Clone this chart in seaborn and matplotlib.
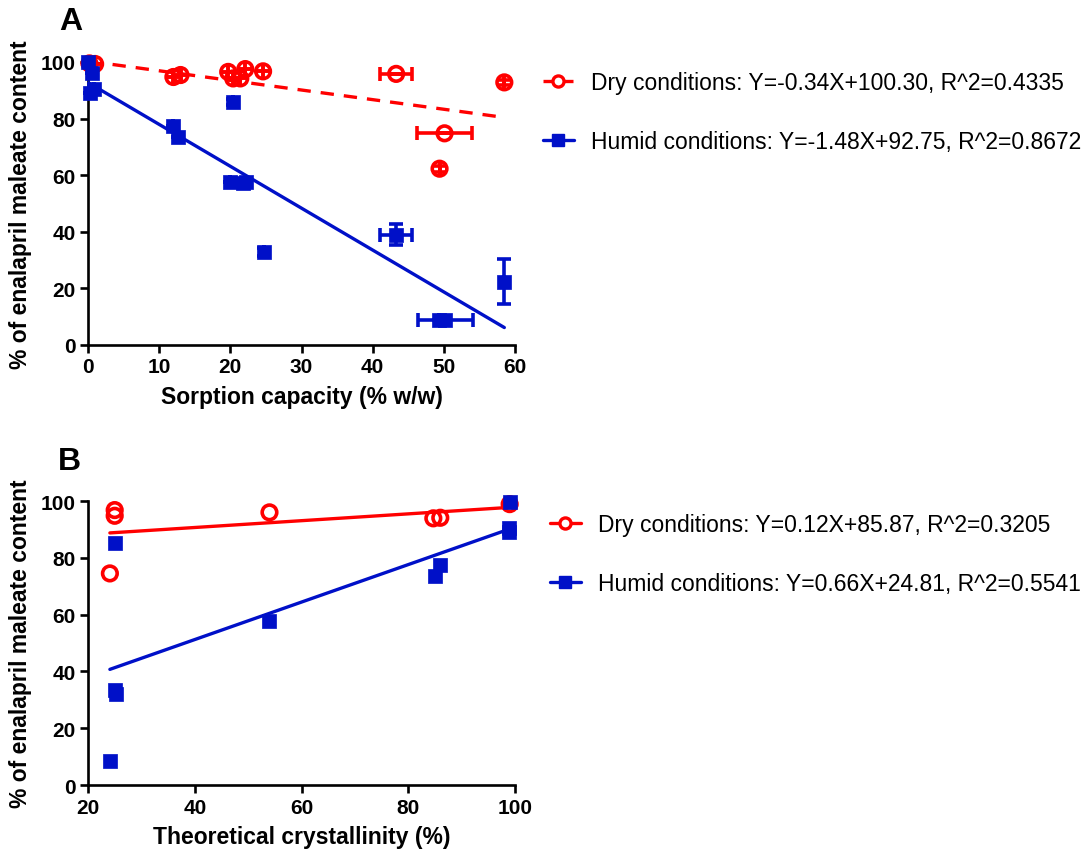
import numpy as np
import matplotlib
matplotlib.use('Agg')
import matplotlib.pyplot as plt
import seaborn as sns
from matplotlib.lines import Line2D

sns.set_style('ticks')
plt.rcParams['font.family'] = ['Liberation Sans', 'DejaVu Sans']
plt.rcParams['text.color'] = 'black'
plt.rcParams['axes.labelcolor'] = 'black'
plt.rcParams['axes.edgecolor'] = 'black'
plt.rcParams['xtick.color'] = 'black'
plt.rcParams['ytick.color'] = 'black'

RED = '#FF0000'
BLUE = '#0010C8'

# panel A: sorption capacity vs content
dry_a_x = [0.2, 1.0, 12.0, 13.0, 19.7, 20.4, 21.4, 22.1, 24.6, 43.3, 49.4, 50.1, 58.5]
dry_a_y = [99.5, 99.3, 94.7, 95.4, 96.5, 94.2, 94.2, 97.5, 96.7, 95.8, 62.3, 74.8, 92.8]
dry_a_xerr = [0, 0, 0, 0, 0, 0, 0, 0, 0, 2.2, 0, 3.9, 0]
dry_a_yerr = [0, 0, 0, 0, 0, 0, 0, 0, 0, 0, 1.0, 0, 1.0]

hum_a_x = [0.0, 0.5, 0.3, 0.8, 12.0, 12.6, 20.4, 20.0, 21.8, 22.2, 24.8, 43.3, 49.3, 50.2, 58.5]
hum_a_y = [100.0, 96.0, 89.0, 90.5, 77.3, 73.6, 85.8, 57.7, 57.1, 57.5, 32.8, 39.0, 9.0, 8.8, 22.4]
hum_a_xerr = [0, 0, 0, 0, 0, 0, 0, 0, 0, 0, 0, 2.2, 0, 3.9, 0]
hum_a_yerr = [0, 0, 0, 0, 0, 0, 1.0, 0, 0, 0, 1.5, 3.8, 0, 0, 8.0]

# panel B: theoretical crystallinity vs content
dry_b_x = [25.0, 25.0, 24.1, 54.0, 84.7, 86.0, 99.0]
dry_b_y = [96.8, 94.8, 74.5, 96.0, 93.9, 94.1, 98.9]
hum_b_x = [25.0, 25.0, 25.2, 24.1, 54.0, 85.0, 85.9, 98.9, 98.9, 99.0]
hum_b_y = [85.3, 33.3, 32.2, 8.5, 57.9, 73.5, 77.3, 89.0, 90.5, 99.6]

# regression equations (slope, intercept)
fit_a_dry = (-0.34, 100.30)
fit_a_hum = (-1.48, 92.75)
fit_b_dry = (0.12, 85.87)
fit_b_hum = (0.66, 24.81)

labels_a = ['Dry conditions: Y=-0.34X+100.30, R^2=0.4335',
            'Humid conditions: Y=-1.48X+92.75, R^2=0.8672']
labels_b = ['Dry conditions: Y=0.12X+85.87, R^2=0.3205',
            'Humid conditions: Y=0.66X+24.81, R^2=0.5541']

fig = plt.figure(figsize=(10.92, 8.53), dpi=100)
ax_a = fig.add_axes([88 / 1092, 1 - 346 / 853, 427 / 1092, 283 / 853])
ax_b = fig.add_axes([88 / 1092, 1 - 786 / 853, 427 / 1092, 284 / 853])

circ = dict(marker='o', s=110, facecolor='none', edgecolor=RED, linewidth=2.6, clip_on=False, zorder=4)
sq = dict(marker='s', s=95, color=BLUE, edgecolor=BLUE, linewidth=0.5, clip_on=False, zorder=5)


def fit_line(ax, xs, fit, color, ls):
    x_end = np.array([min(xs), max(xs)])
    sns.lineplot(x=x_end, y=fit[0] * x_end + fit[1], ax=ax, color=color,
                 linestyle=ls, linewidth=2.4, zorder=3)


# --- A ---
ax_a.errorbar(dry_a_x, dry_a_y, xerr=dry_a_xerr, yerr=dry_a_yerr, fmt='none', ecolor=RED,
              elinewidth=2.6, capsize=5, capthick=2.6, clip_on=False, zorder=3)
ax_a.errorbar(hum_a_x, hum_a_y, xerr=hum_a_xerr, yerr=hum_a_yerr, fmt='none', ecolor=BLUE,
              elinewidth=2.6, capsize=5, capthick=2.6, clip_on=False, zorder=3)
fit_line(ax_a, dry_a_x, fit_a_dry, RED, (0, (4, 3)))
fit_line(ax_a, hum_a_x, fit_a_hum, BLUE, '-')
sns.scatterplot(x=dry_a_x, y=dry_a_y, ax=ax_a, **circ)
sns.scatterplot(x=hum_a_x, y=hum_a_y, ax=ax_a, **sq)
ax_a.set_xlim(0, 60)
ax_a.set_ylim(0, 100)
ax_a.set_xticks(range(0, 61, 10))
ax_a.set_yticks(range(0, 101, 20))
ax_a.set_xlabel('Sorption capacity (% w/w)', fontsize=16.5, fontweight='bold', labelpad=6)

# --- B ---
fit_line(ax_b, dry_b_x, fit_b_dry, RED, '-')
fit_line(ax_b, hum_b_x, fit_b_hum, BLUE, '-')
sns.scatterplot(x=dry_b_x, y=dry_b_y, ax=ax_b, **circ)
sns.scatterplot(x=hum_b_x, y=hum_b_y, ax=ax_b, **sq)
ax_b.set_xlim(20, 100)
ax_b.set_ylim(0, 100)
ax_b.set_xticks(range(20, 101, 20))
ax_b.set_yticks(range(0, 101, 20))
ax_b.set_xlabel('Theoretical crystallinity (%)', fontsize=16.5, fontweight='bold', labelpad=6)

for ax in (ax_a, ax_b):
    sns.despine(ax=ax)
    ax.spines['left'].set_linewidth(1.9)
    ax.spines['bottom'].set_linewidth(1.9)
    ax.tick_params(width=1.9, length=6, labelsize=15, pad=3)
    for t in ax.get_xticklabels() + ax.get_yticklabels():
        t.set_fontweight('bold')
    ax.set_ylabel('% of enalapril maleate content', fontsize=16.5, fontweight='bold', labelpad=6)

fig.text(71 / 1092, 1 - 22 / 853, 'A', fontsize=23, fontweight='bold', ha='center', va='center')
fig.text(69 / 1092, 1 - 462 / 853, 'B', fontsize=23, fontweight='bold', ha='center', va='center')

# legends
h_a = [Line2D([], [], color=RED, linestyle='--', lw=2.4, marker='o', mfc='white', mec=RED, mew=2.4, ms=8),
       Line2D([], [], color=BLUE, lw=2.4, marker='s', mfc=BLUE, mec=BLUE, ms=8)]
h_b = [Line2D([], [], color=RED, lw=2.4, marker='o', mfc='white', mec=RED, mew=2.4, ms=8),
       Line2D([], [], color=BLUE, lw=2.4, marker='s', mfc=BLUE, mec=BLUE, ms=8)]
leg_kw = dict(loc='upper left', frameon=False, fontsize=16.5, borderpad=0, handlelength=1.35,
              handletextpad=0.75, labelspacing=1.55, borderaxespad=0)
fig.legend(h_a, labels_a, bbox_to_anchor=(543 / 1092, 1 - 72 / 853), **leg_kw)
fig.legend(h_b, labels_b, bbox_to_anchor=(550 / 1092, 1 - 514 / 853), **leg_kw)

fig.savefig('out.png', dpi=100)
